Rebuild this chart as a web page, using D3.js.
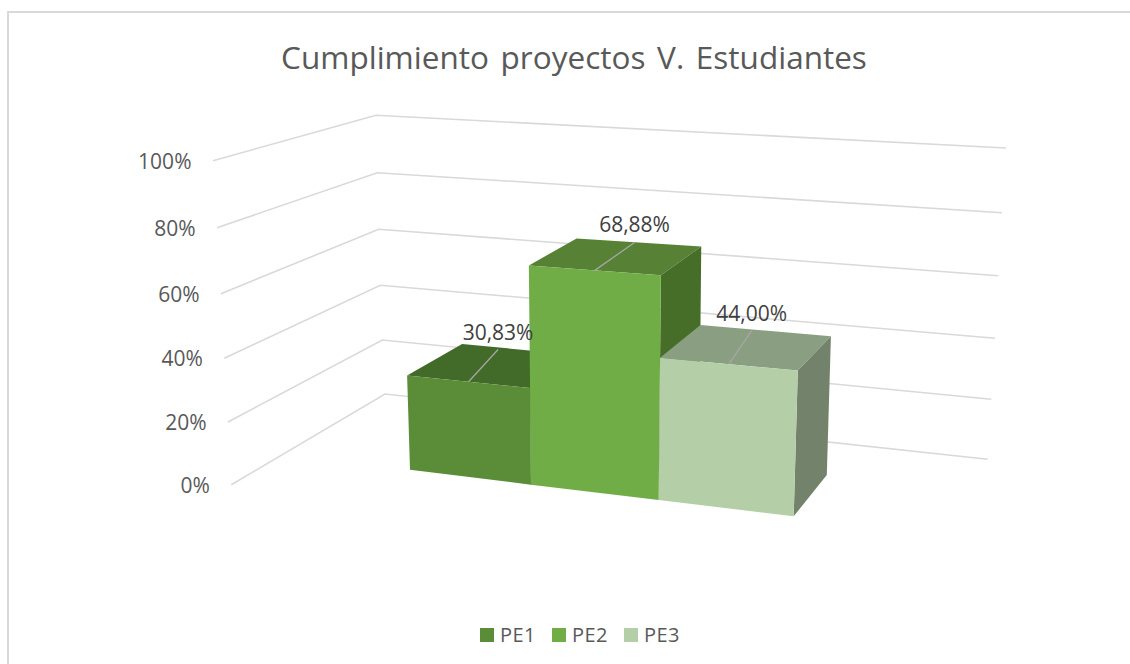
<!DOCTYPE html>
<html><head><meta charset="utf-8">
<script src="https://cdn.jsdelivr.net/npm/d3@7"></script>
<style>html,body{margin:0;padding:0;background:#fff}svg{display:block}text{font-family:"Open Sans",sans-serif}</style>
</head><body><svg id="c" width="1130" height="664"></svg>
<script>
const title = "Cumplimiento proyectos V. Estudiantes";
const categories = ["PE1","PE2","PE3"];
const values = [30.83,68.88,44.00];
const valueLabels = ["30,83%","68,88%","44,00%"];
const ticks = [0,20,40,60,80,100];
const tickLabels = ["0%","20%","40%","60%","80%","100%"];
const frontColors = ["#5b8d39","#70ad47","#b4cea7"];
const topColors = ["#426a28","#578235","#8a9f81"];
const sideColors = ["#426a28","#476e29","#73836b"];

const svg = d3.select("#c");
svg.append("rect").attr("x",8).attr("y",12).attr("width",1200).attr("height",700).attr("fill","#fff").attr("stroke","#d9d9d9").attr("stroke-width",2);

const leftX = d3.scaleLinear().domain(ticks).range([231.3,228,224.3,221,217,213]);
const leftY = d3.scaleLinear().domain(ticks).range([484.7,422,358.3,293.7,227.7,160.7]);
const cornerX = d3.scaleLinear().domain(ticks).range([385,382.3,380.3,378.7,377.3,376]);
const cornerY = d3.scaleLinear().domain(ticks).range([394,340,285.3,229.3,172.7,115.3]);
const rightX = d3.scaleLinear().domain(ticks).range([987.7,991.3,995,998.3,1002,1006]);
const rightY = d3.scaleLinear().domain(ticks).range([459.3,399.3,338.3,275.7,212.7,148]);

const grid = d3.line().x(d=>d[0]).y(d=>d[1]);
svg.append("g").selectAll("path").data(ticks).join("path")
  .attr("d",t=>grid([[leftX(t),leftY(t)],[cornerX(t),cornerY(t)],[rightX(t),rightY(t)]]))
  .attr("fill","none").attr("stroke","#d9d9d9").attr("stroke-width",1.6);

svg.append("g").selectAll("text").data(ticks).join("text")
  .attr("x",t=>leftX(t)-21.5).attr("y",t=>leftY(t)+8)
  .attr("text-anchor","end").attr("font-size",21).attr("fill","#595959")
  .text((t,i)=>tickLabels[i]);

const floorX = d3.scaleLinear().domain([0,1,2,3]).range([410,531,658.7,793.7]);
const floorY = d3.scaleLinear().domain([0,1,2,3]).range([469.7,484.7,500,516.3]);
function P(u,v,w){
  const k = 3.02+0.08*u+0.0012*v;
  const x = floorX(u)+0.0625*(u-1.5)*v;
  const y = floorY(u)-k*v;
  const dx = 55-7.3*u, dy = -(36.2+1.7*u-0.157*v);
  return [x+dx*w, y+dy*w];
}
const poly = pts => "M"+pts.map(p=>p.join(",")).join("L")+"Z";
const bars = svg.append("g");
values.forEach((v,i)=>{
  bars.append("path").attr("d",poly([P(i,v,0),P(i,v,1),P(i+1,v,1),P(i+1,v,0)])).attr("fill",topColors[i]);
  bars.append("path").attr("d",poly([P(i+1,v,0),P(i+1,v,1),P(i+1,0,1),P(i+1,0,0)])).attr("fill",sideColors[i]);
  bars.append("path").attr("d",poly([P(i,v,0),P(i+1,v,0),P(i+1,0,0),P(i,0,0)])).attr("fill",frontColors[i]);
});

const labelShift = [29.5,39.7,22.7];
values.forEach((v,i)=>{
  const a = P(i+0.5,v,0), b = P(i+0.5,v,1);
  const ex = a[0]+labelShift[i];
  svg.append("line").attr("x1",a[0]).attr("y1",a[1]).attr("x2",ex).attr("y2",b[1])
    .attr("stroke","#a6a6a6").attr("stroke-width",1.3);
  svg.append("text").attr("x",ex).attr("y",b[1]-10).attr("text-anchor","middle")
    .attr("font-size",21).attr("fill","#404040").text(valueLabels[i]);
});

svg.append("text").attr("x",574).attr("y",69).attr("text-anchor","middle")
  .attr("font-size",31.5).attr("word-spacing",3.5).attr("fill","#595959").text(title);

const legendX = d3.scaleOrdinal().domain(categories).range([480,552,624]);
const lg = svg.append("g").selectAll("g").data(categories).join("g")
  .attr("transform",d=>`translate(${legendX(d)},628)`);
lg.append("rect").attr("width",14).attr("height",14).attr("fill",(d,i)=>frontColors[i]);
lg.append("text").attr("x",20).attr("y",14).attr("font-size",20).attr("letter-spacing",0.4).attr("fill","#595959").text(d=>d);
</script></body></html>
